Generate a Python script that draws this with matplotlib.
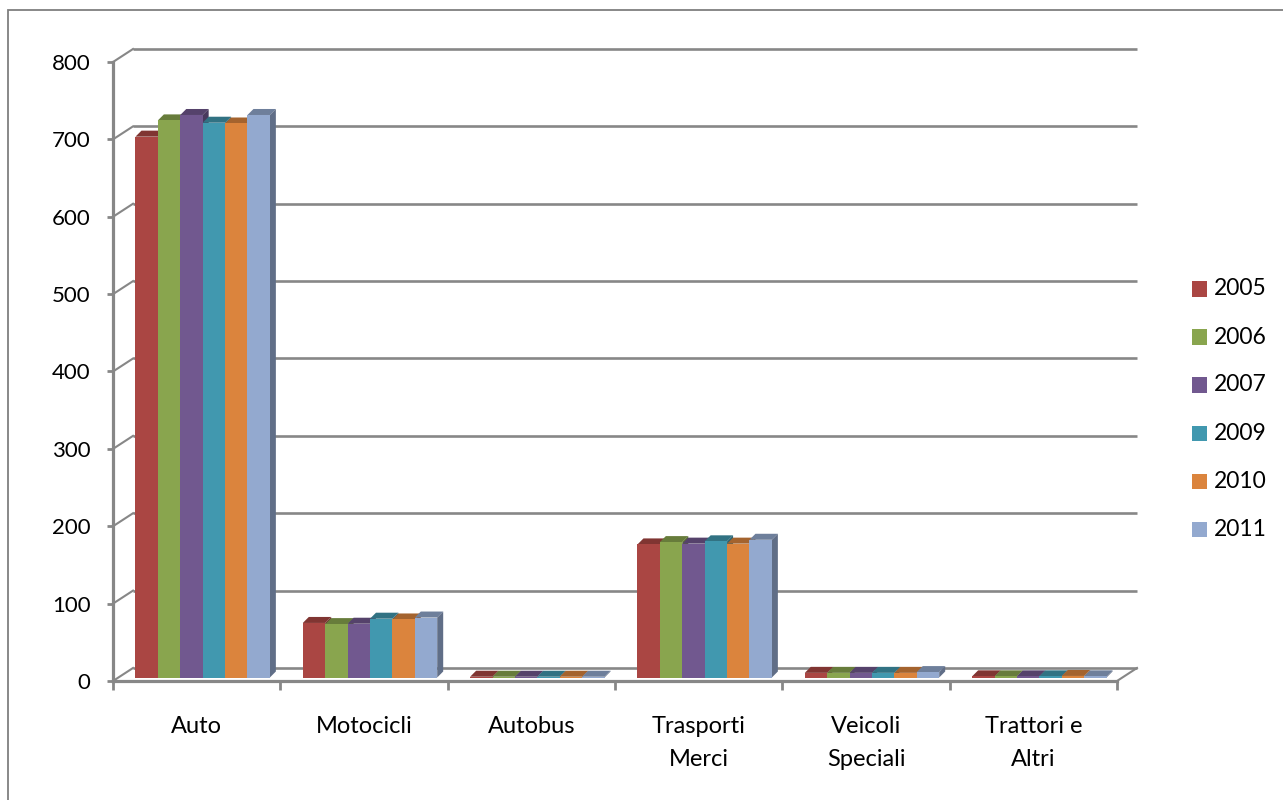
import matplotlib
matplotlib.use("Agg")
import matplotlib.pyplot as plt
from matplotlib.patches import Polygon, Rectangle
import matplotlib.colors as mcolors

categories = ["Auto", "Motocicli", "Autobus", "Trasporti\nMerci", "Veicoli\nSpeciali", "Trattori e\nAltri"]
years = ["2005", "2006", "2007", "2009", "2010", "2011"]
v2005 = [699, 70.5, 1, 172, 6, 1.5]
v2006 = [720, 69, 1, 175, 6, 1.5]
v2007 = [727, 69.5, 1, 173, 6, 1.5]
v2009 = [717, 76, 1, 176, 6, 1.5]
v2010 = [716, 75, 1, 173, 6, 2]
v2011 = [727, 77.5, 1, 178, 7, 1.5]
series = [v2005, v2006, v2007, v2009, v2010, v2011]
colors = ["#AA4643", "#89A54E", "#71588F", "#4198AF", "#DB843D", "#93A9CF"]
yticks = [0, 100, 200, 300, 400, 500, 600, 700, 800]

W, H = 1283, 800
fig = plt.figure(figsize=(W / 100, H / 100), dpi=100)
plt.rcParams['font.family'] = ['Lato', 'DejaVu Sans']

# front plane of the plot (pixel geometry)
L, R, B, T = 113, 1117, 681, 62
ax = fig.add_axes([L / W, (H - B) / H, (R - L) / W, (B - T) / H])
ax.set_xlim(-0.5, 5.5)
ax.set_ylim(0, 800)
ax.patch.set_alpha(0)

pxx = (R - L) / 6.0      # px per category unit
pxy = (B - T) / 800.0    # px per value unit

def ox(px):
    return px / pxx

def oy(px):
    return px / pxy

gray = "#878787"
# back wall gridlines and left wall connectors
wx, wy = ox(20), oy(13)
for v in yticks:
    ax.plot([-0.5 + wx, 5.5 + wx], [v + wy, v + wy], color=gray, lw=1.9, clip_on=False, zorder=1,
            solid_capstyle='butt')
    ax.plot([-0.5, -0.5 + wx], [v, v + wy], color=gray, lw=1.5, clip_on=False, zorder=1)
ax.plot([5.5, 5.5 + wx], [0, wy], color=gray, lw=1.5, clip_on=False, zorder=1)

# bars (pseudo 3D)
bx, by = ox(6), oy(3.5)
dx, dy = ox(6), oy(6)
bw = 22.4 / pxx

def shade(c, f):
    r, g, b = mcolors.to_rgb(c)
    return (r * f, g * f, b * f)

z = 3
for i in range(len(categories)):
    for j, vals in enumerate(series):
        v = vals[i]
        x0 = i + (j - 3) * bw + bx
        x1 = x0 + bw
        y0 = 0 + by
        y1 = v + by
        c = colors[j]
        top = Polygon([(x0, y1), (x1, y1), (x1 + dx, y1 + dy), (x0 + dx, y1 + dy)],
                      closed=True, facecolor=shade(c, 0.75), edgecolor='none', clip_on=False, zorder=z)
        side = Polygon([(x1, y0), (x1 + dx, y0 + dy), (x1 + dx, y1 + dy), (x1, y1)],
                       closed=True, facecolor=shade(c, 0.65), edgecolor='none', clip_on=False, zorder=z)
        front = Rectangle((x0, y0), bw, v, facecolor=c, edgecolor='none', clip_on=False, zorder=z + 0.5)
        ax.add_patch(top)
        ax.add_patch(side)
        ax.add_patch(front)
        z += 1

# axes
for s in ["top", "right"]:
    ax.spines[s].set_visible(False)
for s in ["left", "bottom"]:
    ax.spines[s].set_color(gray)
    ax.spines[s].set_linewidth(2.3)
    ax.spines[s].set_zorder(200)
ax.set_yticks(yticks)
ax.set_yticklabels([str(v) for v in yticks])
ax.tick_params(axis='y', direction='out', length=4.3, width=2.0, color=gray, pad=12,
               labelsize=16, labelcolor='black')
ax.set_xticks([k - 0.5 for k in range(7)])
ax.set_xticklabels([])
ax.tick_params(axis='x', direction='out', length=6.5, width=2.0, color=gray)
for i, c in enumerate(categories):
    ax.annotate(c, xy=(i, 0), xycoords='data', xytext=(0, -25.5), textcoords='offset points',
                ha='center', va='top', fontsize=17, linespacing=1.68, annotation_clip=False)

# legend
for k, (y, c) in enumerate(zip(years, colors)):
    cy = 289 + 48 * k
    fig.patches.append(Rectangle((1192 / W, (H - cy - 7.5) / H), 15 / W, 15 / H,
                                 transform=fig.transFigure, facecolor=c, edgecolor='none'))
    fig.text(1214 / W, (H - cy) / H, y, ha='left', va='center', fontsize=16.5)

# outer border
fig.patches.append(Rectangle((8 / W, -0.05), 1.2, (H - 10) / H + 0.05, transform=fig.transFigure,
                             facecolor='none', edgecolor='#7f7f7f', lw=1.3))

fig.savefig("out.png", dpi=100)
